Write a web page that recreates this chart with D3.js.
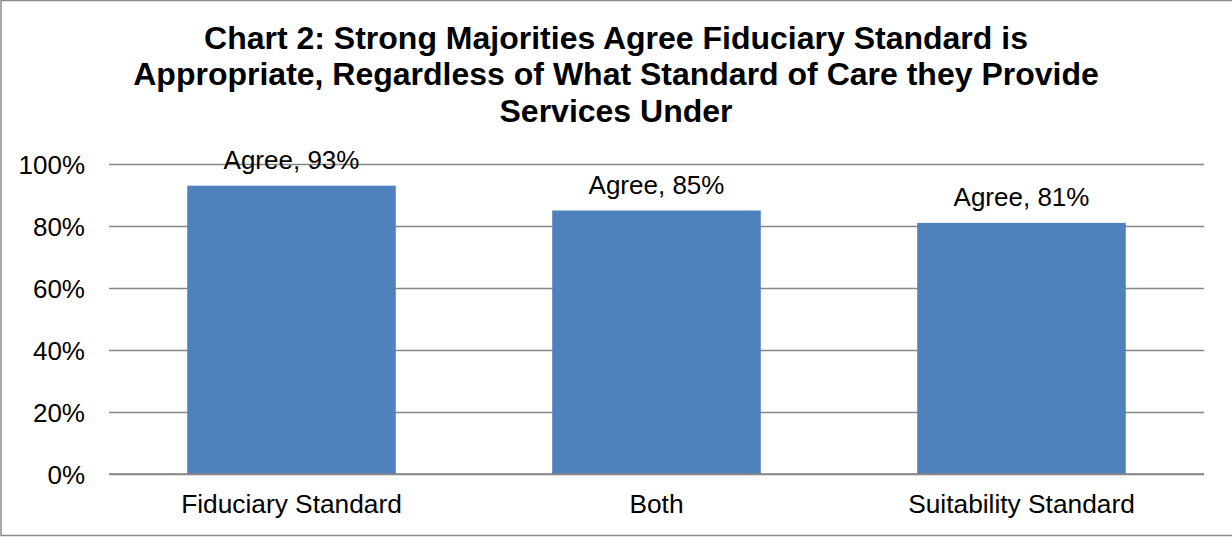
<!DOCTYPE html>
<html>
<head>
<meta charset="utf-8">
<script src="https://cdn.jsdelivr.net/npm/d3@7"></script>
<style>
  html, body { margin: 0; padding: 0; background: #fff; }
  svg { display: block; }
  text { font-family: "Liberation Sans", Arial, sans-serif; fill: #000; }
</style>
</head>
<body>
<script>
// Survey results: share of advisers who agree the fiduciary standard is appropriate
const categories = ["Fiduciary Standard", "Both", "Suitability Standard"];
const agreeValues = [93, 85, 81];
const seriesName = "Agree";
const yTicks = [0, 20, 40, 60, 80, 100];
const titleLines = [
  "Chart 2: Strong Majorities Agree Fiduciary Standard is",
  "Appropriate, Regardless of What Standard of Care they Provide",
  "Services Under"
];

const W = 1232, H = 537;
const plot = { left: 109, right: 1204, top: 164, bottom: 474 };

const svg = d3.select("body").append("svg")
  .attr("width", W).attr("height", H);

// outer chart frame
svg.append("rect")
  .attr("x", 1).attr("y", 0.5)
  .attr("width", W + 10).attr("height", 535)
  .attr("fill", "#fff")
  .attr("stroke", "#8c8c8c").attr("stroke-width", 1.5);

// title
svg.append("g").selectAll("text")
  .data(titleLines)
  .join("text")
  .attr("x", 616)
  .attr("y", (d, i) => 49 + i * 36.3)
  .attr("text-anchor", "middle")
  .attr("font-weight", "bold")
  .attr("font-size", 32)
  .text(d => d);

const x = d3.scaleBand()
  .domain(categories)
  .range([plot.left, plot.right])
  .paddingInner(0.75 / 1.75)
  .paddingOuter(0.75 / 3.5);

const y = d3.scaleLinear()
  .domain([0, 100])
  .range([plot.bottom, plot.top]);

// horizontal gridlines and y labels
const yAxis = d3.axisLeft(y)
  .tickValues(yTicks)
  .tickSize(-(plot.right - plot.left))
  .tickPadding(24)
  .tickFormat(d => d + "%");

const gy = svg.append("g")
  .attr("transform", `translate(${plot.left},0)`)
  .call(yAxis);
gy.select(".domain").remove();
gy.selectAll(".tick line")
  .attr("stroke", "#868686").attr("stroke-width", 1.4);
gy.selectAll(".tick text")
  .attr("font-size", 26)
  .attr("font-family", "Liberation Sans, Arial, sans-serif")
  .attr("fill", "#000")
  .attr("dy", "0.35em");

// bars
svg.append("g").selectAll("rect")
  .data(categories)
  .join("rect")
  .attr("x", d => x(d))
  .attr("width", x.bandwidth())
  .attr("y", (d, i) => y(agreeValues[i]))
  .attr("height", (d, i) => y(0) - y(agreeValues[i]))
  .attr("fill", "#4F81BD");

// redraw the baseline over the bars
svg.append("line")
  .attr("x1", plot.left).attr("x2", plot.right)
  .attr("y1", y(0)).attr("y2", y(0))
  .attr("stroke", "#868686").attr("stroke-width", 1.4);

// value labels
svg.append("g").selectAll("text")
  .data(categories)
  .join("text")
  .attr("x", d => x(d) + x.bandwidth() / 2)
  .attr("y", (d, i) => y(agreeValues[i]) - 17)
  .attr("text-anchor", "middle")
  .attr("font-size", 26)
  .text((d, i) => `${seriesName}, ${agreeValues[i]}%`);

// category labels
const xAxis = d3.axisBottom(x).tickSize(0).tickPadding(0);
const gx = svg.append("g")
  .attr("transform", `translate(0,${plot.bottom})`)
  .call(xAxis);
gx.select(".domain").remove();
gx.selectAll(".tick text")
  .attr("font-size", 26.3)
  .attr("font-family", "Liberation Sans, Arial, sans-serif")
  .attr("fill", "#000")
  .attr("dy", null)
  .attr("y", 39);
</script>
</body>
</html>
